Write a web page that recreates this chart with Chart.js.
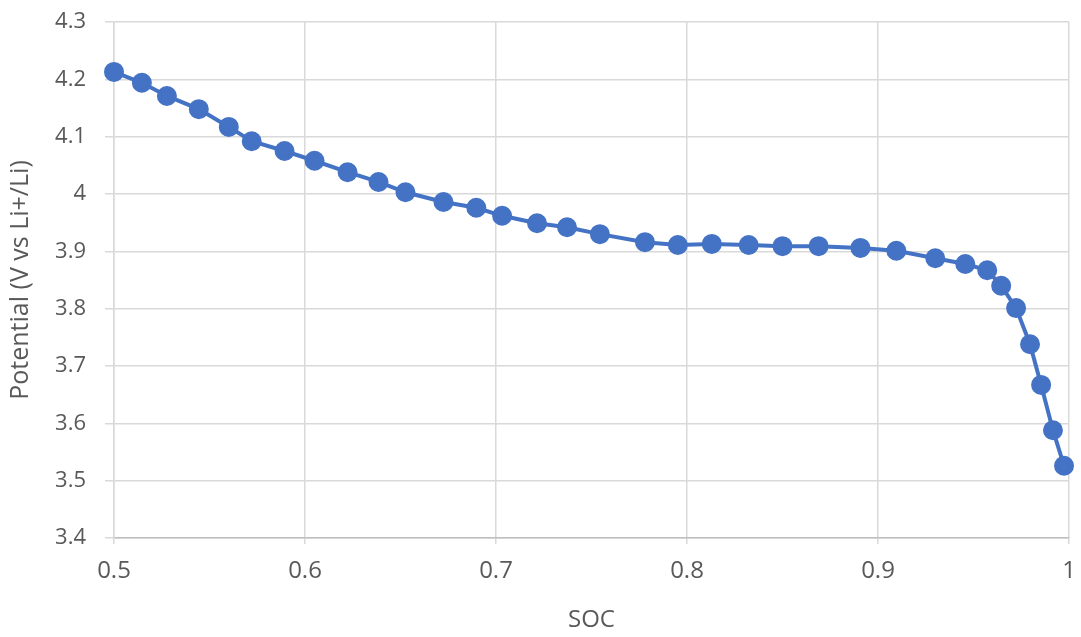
<!DOCTYPE html>
<html>
<head>
<meta charset="utf-8">
<script src="https://cdn.jsdelivr.net/npm/chart.js@4.4.1/dist/chart.umd.min.js"></script>
<style>
  html, body { margin: 0; padding: 0; background: #fff; }
  #wrap { width: 1081px; height: 637px; }
</style>
</head>
<body>
<div id="wrap"><canvas id="Potential_SOC"></canvas></div>
<script>
// State of charge vs. potential
const soc = [0.5, 0.5146, 0.5277, 0.5444, 0.5601, 0.5721, 0.5893, 0.6050, 0.6223, 0.6385,
    0.6526, 0.6725, 0.6897, 0.7032, 0.7215, 0.7372, 0.7544, 0.7780, 0.7952, 0.8130,
    0.8323, 0.8500, 0.8689, 0.8908, 0.9096, 0.9300, 0.9457, 0.9572, 0.9645, 0.9723,
    0.9796, 0.9854, 0.9916, 0.9974];
const potential = [4.213, 4.194, 4.171, 4.148, 4.117, 4.092, 4.075, 4.058, 4.038, 4.021,
    4.003, 3.986, 3.976, 3.962, 3.949, 3.942, 3.930, 3.916, 3.911, 3.913,
    3.911, 3.909, 3.909, 3.906, 3.901, 3.888, 3.878, 3.867, 3.840, 3.801,
    3.738, 3.667, 3.588, 3.526];
const xTicks = [0.5, 0.6, 0.7, 0.8, 0.9, 1];
const yTicks = [3.4, 3.5, 3.6, 3.7, 3.8, 3.9, 4, 4.1, 4.2, 4.3];

const fmt = v => String(Number(v.toFixed(1)));
const family = '"Open Sans", sans-serif';
const grey = '#595959';

const ctx = document.getElementById('Potential_SOC');

new Chart(ctx, {
    type: 'scatter',
    data: {
        datasets: [{
            label: 'Potential',
            data: soc.map((x, i) => ({ x: x, y: potential[i] })),
            showLine: true,
            clip: false,
            borderColor: '#4472C4',
            backgroundColor: '#4472C4',
            borderWidth: 4,
            pointRadius: 8,
            pointHoverRadius: 8
        }]
    },
    options: {
        responsive: true,
        maintainAspectRatio: false,
        animation: false,
        layout: { padding: { top: 22, right: 10, left: 0, bottom: 0 } },
        plugins: { legend: { display: false }, tooltip: { enabled: false } },
        scales: {
            x: {
                type: 'linear',
                min: xTicks[0],
                max: xTicks[xTicks.length - 1],
                afterBuildTicks: axis => { axis.ticks = xTicks.map(v => ({ value: v })); },
                afterFit: axis => { axis.height = 99; axis.paddingLeft = 0; axis.paddingRight = 0; },
                ticks: { callback: fmt, color: grey, font: { family: family, size: 24 }, padding: 13, maxRotation: 0 },
                grid: { color: '#d9d9d9', lineWidth: 1.5, tickLength: 6 },
                border: { color: '#bfbfbf', width: 1.5 },
                title: { display: true, text: 'SOC', color: grey, font: { family: family, size: 24 }, padding: { top: 0, bottom: 2 } }
            },
            y: {
                min: yTicks[0],
                max: yTicks[yTicks.length - 1],
                afterBuildTicks: axis => { axis.ticks = yTicks.map(v => ({ value: v })); },
                afterFit: axis => { axis.width = 114; axis.paddingTop = 0; axis.paddingBottom = 0; },
                ticks: { callback: fmt, color: grey, font: { family: family, size: 22 }, padding: 19 },
                grid: { color: '#d9d9d9', lineWidth: 1.5, tickLength: 9 },
                border: { color: '#d9d9d9', width: 1.5 },
                title: { display: true, text: 'Potential (V vs Li+/Li)', color: grey, font: { family: family, size: 25 }, padding: { top: 6, bottom: 0 } }
            }
        }
    }
});
</script>
</body>
</html>
